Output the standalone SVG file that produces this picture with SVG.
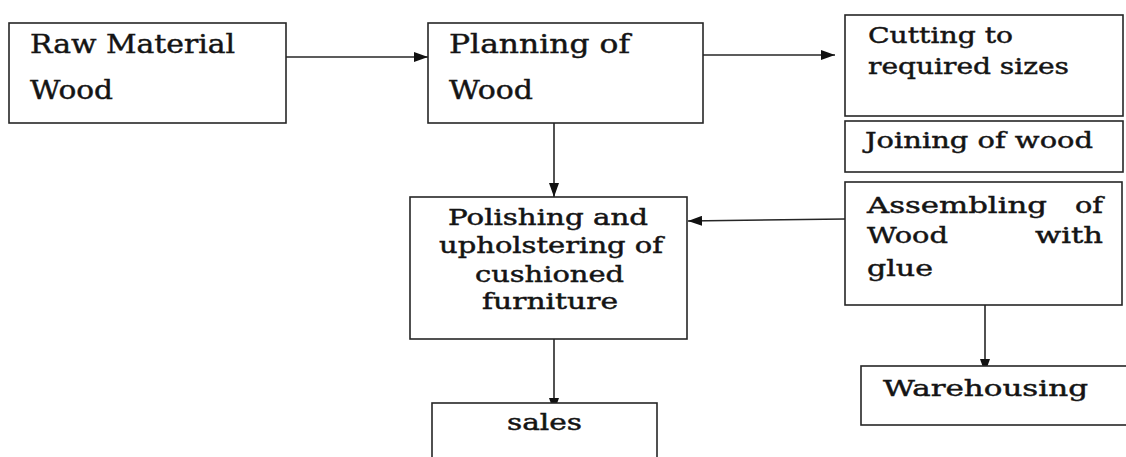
<svg xmlns="http://www.w3.org/2000/svg" width="1126" height="457" viewBox="0 0 1126 457">
<style>
.box{fill:#fff;stroke:#262626;stroke-width:1.6}
.t{font-family:"DejaVu Serif","Liberation Serif",serif;fill:#141414;stroke:#141414;stroke-width:0.45}
.l{font-size:26px}
.m{font-size:23px}
.s{font-size:22px}
.c{stroke:#262626;stroke-width:1.6;fill:none}
</style>
<defs>
<marker id="ah" viewBox="0 0 14 10" refX="14" refY="5" markerWidth="14" markerHeight="10" markerUnits="userSpaceOnUse" orient="auto">
<path d="M0,0 L14,5 L0,10 Z" fill="#111"/>
</marker>
</defs>
<rect width="1126" height="457" fill="#fff"/>
<g id="connectors">
<line class="c" x1="286" y1="57" x2="428" y2="57" marker-end="url(#ah)"/>
<line class="c" x1="703" y1="55" x2="835" y2="55" marker-end="url(#ah)"/>
<line class="c" x1="554" y1="123" x2="554" y2="197" marker-end="url(#ah)"/>
<line class="c" x1="845" y1="219" x2="688" y2="221" marker-end="url(#ah)"/>
<line class="c" x1="554" y1="339" x2="554" y2="412" marker-end="url(#ah)"/>
<line class="c" x1="985" y1="305" x2="985" y2="373" marker-end="url(#ah)"/>
</g>
<g id="raw">
<rect class="box" x="9" y="23" width="277" height="100"/>
<text class="t l" x="30" y="53" textLength="205" lengthAdjust="spacingAndGlyphs">Raw Material</text>
<text class="t l" x="30" y="99" textLength="83" lengthAdjust="spacingAndGlyphs">Wood</text>
</g>
<g id="planning">
<rect class="box" x="428" y="23" width="275" height="100"/>
<text class="t l" x="449" y="53" textLength="181" lengthAdjust="spacingAndGlyphs">Planning of</text>
<text class="t l" x="449" y="99" textLength="84" lengthAdjust="spacingAndGlyphs">Wood</text>
</g>
<g id="cutting">
<rect class="box" x="845" y="15" width="278" height="101"/>
<text class="t m" x="868" y="43" textLength="145" lengthAdjust="spacingAndGlyphs">Cutting to</text>
<text class="t m" x="868" y="74" textLength="201" lengthAdjust="spacingAndGlyphs">required sizes</text>
</g>
<g id="joining">
<rect class="box" x="845" y="121" width="278" height="51"/>
<text class="t m" x="865" y="148" textLength="228" lengthAdjust="spacingAndGlyphs">Joining of wood</text>
</g>
<g id="assembling">
<rect class="box" x="845" y="182" width="277" height="123"/>
<text class="t m" x="867" y="213" textLength="180" lengthAdjust="spacingAndGlyphs">Assembling</text>
<text class="t m" x="1075" y="213" textLength="28" lengthAdjust="spacingAndGlyphs">of</text>
<text class="t m" x="867" y="243" textLength="81" lengthAdjust="spacingAndGlyphs">Wood</text>
<text class="t m" x="1035" y="243" textLength="68" lengthAdjust="spacingAndGlyphs">with</text>
<text class="t m" x="867" y="276" textLength="66" lengthAdjust="spacingAndGlyphs">glue</text>
</g>
<g id="polishing">
<rect class="box" x="410" y="197" width="277" height="142"/>
<text class="t s" x="448" y="225" textLength="200" lengthAdjust="spacingAndGlyphs">Polishing and</text>
<text class="t s" x="439" y="253" textLength="224" lengthAdjust="spacingAndGlyphs">upholstering of</text>
<text class="t s" x="475" y="282" textLength="149" lengthAdjust="spacingAndGlyphs">cushioned</text>
<text class="t s" x="482" y="309" textLength="136" lengthAdjust="spacingAndGlyphs">furniture</text>
</g>
<g id="sales">
<rect class="box" x="432" y="403" width="225" height="70"/>
<text class="t s" x="507" y="430" textLength="75" lengthAdjust="spacingAndGlyphs">sales</text>
</g>
<g id="warehousing">
<rect class="box" x="861" y="366" width="280" height="59"/>
<text class="t m" x="883" y="396" textLength="205" lengthAdjust="spacingAndGlyphs">Warehousing</text>
</g>
</svg>
